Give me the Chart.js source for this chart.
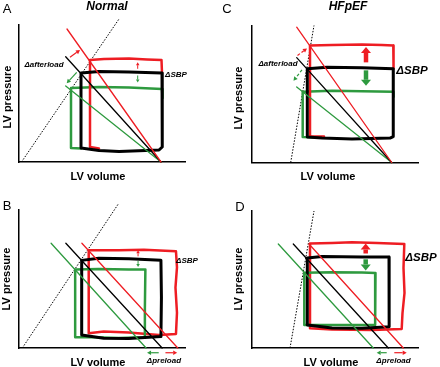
<!DOCTYPE html>
<html>
<head>
<meta charset="utf-8">
<script src="https://cdn.jsdelivr.net/npm/chart.js@4.4.1/dist/chart.umd.min.js"></script>
<style>
  body { margin: 0; background: #fff; }
  #fig { position: relative; width: 440px; height: 367px; overflow: hidden; font-family: "Liberation Sans", Arial, sans-serif; }
  canvas { position: absolute; }
  .t { position: absolute; transform: translate(-50%, -50%); white-space: nowrap; color: #000; line-height: 1; }
  .letter { font-size: 13px; }
  .title { font-size: 12px; font-weight: bold; font-style: italic; }
  .ax { font-size: 11px; font-weight: bold; }
  .rot { transform: translate(-50%, -50%) rotate(-90deg); }
</style>
</head>
<body>
<div id="fig">
  <canvas id="panelA" width="220" height="185" style="left:0;top:0"></canvas>
  <canvas id="panelC" width="220" height="185" style="left:220px;top:0"></canvas>
  <canvas id="panelB" width="220" height="182" style="left:0;top:185px"></canvas>
  <canvas id="panelD" width="220" height="182" style="left:220px;top:185px"></canvas>

  <div class="t letter" style="left:7px;top:8px">A</div>
  <div class="t title" style="left:107px;top:6px">Normal</div>
  <div class="t letter" style="left:227px;top:8px">C</div>
  <div class="t title" style="left:348px;top:6px">HFpEF</div>
  <div class="t letter" style="left:7px;top:205px">B</div>
  <div class="t letter" style="left:240px;top:206px">D</div>

  <div class="t ax rot" style="left:7px;top:97px">LV pressure</div>
  <div class="t ax rot" style="left:238px;top:98px">LV pressure</div>
  <div class="t ax rot" style="left:6px;top:279px">LV pressure</div>
  <div class="t ax rot" style="left:238px;top:279px">LV pressure</div>
  <div class="t ax" style="left:98px;top:176px">LV volume</div>
  <div class="t ax" style="left:328px;top:176px">LV volume</div>
  <div class="t ax" style="left:98px;top:362px">LV volume</div>
  <div class="t ax" style="left:331px;top:362px">LV volume</div>
</div>
<script>
// schematic units: [volume, pressure], axes run 0-166 and 0-137

// --- A: normal heart, afterload change ---
const espvrA = [[2.5, 0], [100, 143]];
const loopA = [[62, 89], [80, 90.5], [110, 90], [143, 89], [143.5, 50], [143, 15], [140, 12], [100, 10.5], [80, 11.5], [62, 14], [62, 89]];
const loopAUp = [[80, 13.5], [71, 15], [71, 102], [85, 103], [110, 103.5], [128, 102.5], [142.5, 102], [143, 89]];
const loopADown = [[62, 13.5], [52, 14], [52, 74], [80, 75], [110, 74.5], [143, 73], [143.5, 64]];
const eaA = [[46.7, 105.3], [142, 0]];
const eaAUp = [[48, 133], [142, 0]];
const eaADown = [[46.7, 76], [142, 0]];
const arrowsA = { up: [[51, 104.7], [61, 112]], down: [[57.7, 89.7], [47.7, 78.7]], sbpUp: [[118.7, 93.2], [118.7, 99.8]], sbpDown: [[118.7, 86.5], [118.7, 79.5]] };

// --- B: normal heart, preload change ---
const espvrB = [[3.8, 0], [99.5, 143]];
const loopB = [[63, 87], [80, 89], [110, 88.5], [142, 87], [142.5, 50], [142, 11.3], [110, 9.5], [85, 9.7], [63, 13], [63, 87]];
const loopBUp = [[70, 14.7], [70, 97], [100, 97], [125, 97.5], [157, 96], [158, 80], [156.5, 60], [158, 35], [157, 14], [140, 13], [110, 15.5], [85, 16.3], [70, 14.7]];
const loopBDown = [[56.5, 78], [80, 78.5], [110, 78], [126.5, 78], [126, 40], [126, 10.7], [100, 10], [75, 10.7], [56.5, 10.7], [56.5, 78]];
const eaB = [[47.2, 104], [143.2, 0]];
const eaBUp = [[63.2, 104], [158.8, 0]];
const eaBDown = [[32.5, 104], [127.2, 0]];
const arrowsB = { sbpUp: [[119.2, 91], [119.2, 97]], sbpDown: [[119.2, 86.5], [119.2, 80.5]], preDown: [[139.8, -4.7], [128.2, -4.7]], preUp: [[146.5, -4.7], [158.2, -4.7]] };

// --- C: HFpEF, afterload change ---
const espvrC = [[38.7, 0], [62, 137.5]];
const loopC = [[55.3, 94], [75, 95.5], [110, 95], [141.3, 94], [141.5, 60], [141, 26], [138, 24.5], [100, 23.5], [70, 24.5], [55.3, 25.5], [55.3, 94]];
const loopCUp = [[72, 26], [58, 26], [58, 117.5], [80, 118], [110, 118.5], [130, 118], [141.3, 117.5], [141.8, 105], [141.3, 94]];
const loopCDown = [[66, 25], [50.7, 25.5], [50.7, 71], [80, 72], [110, 71.5], [141.3, 71], [141.5, 66]];
const eaC = [[44.7, 105.2], [139.7, 0]];
const eaCUp = [[44.7, 135.8], [139.7, 0]];
const eaCDown = [[44.7, 75.8], [139.7, 0]];
const arrowsC = { up: [[45.5, 107.5], [55, 114.5]], down: [[50, 93], [41.5, 82]], sbpUp: [[114, 100.5], [114, 116]], sbpDown: [[114, 92.5], [114, 77]] };

// --- D: HFpEF, preload change ---
const espvrD = [[38, 0], [62, 137]];
const loopD = [[55.3, 90], [70, 91.5], [110, 91], [137, 91], [137.3, 60], [137, 21.3], [110, 19.7], [80, 20], [55.3, 23], [55.3, 90]];
const loopDUp = [[58, 19.7], [58, 104.5], [80, 105], [100, 105.7], [125, 105], [152.3, 104], [151.5, 80], [152.5, 55], [150.5, 35], [149.7, 19], [120, 18], [80, 18.5], [58, 19.7]];
const loopDDown = [[52.3, 75.3], [80, 75.8], [110, 75.5], [123.5, 75], [123.3, 50], [123, 23], [90, 23], [52.3, 23], [52.3, 75.3]];
const eaD = [[41.3, 104], [136.3, 0]];
const eaDUp = [[57, 104], [151.3, 0]];
const eaDDown = [[26.3, 104], [121.3, 0]];
const arrowsD = { sbpUp: [[113.7, 94.5], [113.7, 104.5]], sbpDown: [[113.7, 88.7], [113.7, 77.5]], preDown: [[134.7, -4.7], [124.7, -4.7]], preUp: [[142.3, -4.7], [154.7, -4.7]] };

const RED = '#ee1d23';
const GREEN = '#2e9a3f';
const BLACK = '#000000';
const FONT = '"Liberation Sans", Arial, sans-serif';

const small = { shaft: 1.2, len: 4, head: 4.5 };
const tiny = { shaft: 1, len: 3, head: 3.5 };
const big = { shaft: 4.5, len: 6, head: 10 };

function line(data, color, width, order, extra) {
    return Object.assign({
        data: data, borderColor: color, borderWidth: width, showLine: true,
        pointRadius: 0, clip: false, order: order, tension: 0,
        borderJoinStyle: 'round', borderCapStyle: 'round'
    }, extra || {});
}

function arrow(data, color, style, dash) {
    return { data: data, borderColor: color, showLine: false, pointRadius: 0, clip: false, order: 0, arrow: style, dash: dash };
}

function drawArrow(ctx, x0, y0, x1, y1, color, st, dash) {
    const ang = Math.atan2(y1 - y0, x1 - x0);
    const bx = x1 - Math.cos(ang) * st.len, by = y1 - Math.sin(ang) * st.len;
    ctx.save();
    ctx.strokeStyle = color;
    ctx.fillStyle = color;
    ctx.lineWidth = st.shaft;
    if (dash) ctx.setLineDash(dash);
    ctx.beginPath();
    ctx.moveTo(x0, y0);
    ctx.lineTo(bx, by);
    ctx.stroke();
    ctx.setLineDash([]);
    const nx = -Math.sin(ang) * st.head / 2, ny = Math.cos(ang) * st.head / 2;
    ctx.beginPath();
    ctx.moveTo(x1, y1);
    ctx.lineTo(bx + nx, by + ny);
    ctx.lineTo(bx - nx, by - ny);
    ctx.closePath();
    ctx.fill();
    ctx.restore();
}

function marksPlugin(notes) {
    return {
        id: 'marks',
        afterDatasetsDraw(chart) {
            const ctx = chart.ctx;
            chart.data.datasets.forEach((ds, i) => {
                if (!ds.arrow) return;
                const pts = chart.getDatasetMeta(i).data;
                drawArrow(ctx, pts[0].x, pts[0].y, pts[1].x, pts[1].y, ds.borderColor, ds.arrow, ds.dash);
            });
            notes.forEach(n => {
                ctx.save();
                ctx.font = 'italic bold ' + n.size + 'px ' + FONT;
                ctx.fillStyle = '#000';
                ctx.textAlign = 'center';
                ctx.textBaseline = 'middle';
                ctx.fillText(n.text, chart.scales.x.getPixelForValue(n.v), chart.scales.y.getPixelForValue(n.p));
                ctx.restore();
            });
        }
    };
}

function makePanel(id, padding, datasets, notes) {
    const axis = (max, pos) => ({
        type: 'linear', position: pos, min: 0, max: max,
        grid: { display: false, drawTicks: false },
        ticks: { display: false },
        border: { display: true, color: '#000', width: 1.5 }
    });
    return new Chart(document.getElementById(id), {
        type: 'scatter',
        data: { datasets: datasets },
        options: {
            responsive: false,
            animation: false,
            layout: { padding: padding },
            plugins: { legend: { display: false }, tooltip: { enabled: false } },
            scales: { x: axis(166, 'bottom'), y: axis(137, 'left') }
        },
        plugins: [marksPlugin(notes)]
    });
}

makePanel('panelA', { left: 19, top: 25, right: 35, bottom: 23 }, [
    line(espvrA, BLACK, 1, 9, { borderDash: [1.5, 1.5], borderCapStyle: 'butt' }),
    line(loopADown, GREEN, 2.5, 8),
    line(loopAUp, RED, 2.5, 7),
    line(loopA, BLACK, 3, 6),
    line(eaADown, GREEN, 1.3, 5),
    line(eaA, BLACK, 1.3, 4),
    line(eaAUp, RED, 1.3, 3),
    arrow(arrowsA.up, RED, small),
    arrow(arrowsA.down, GREEN, small),
    arrow(arrowsA.sbpUp, RED, tiny),
    arrow(arrowsA.sbpDown, GREEN, tiny)
], [
    { text: '\u0394afterload', v: 25, p: 97.7, size: 8 },
    { text: '\u0394SBP', v: 157, p: 87, size: 8 }
]);

makePanel('panelB', { left: 18.5, top: 25, right: 35, bottom: 19 }, [
    line(espvrB, BLACK, 1, 9, { borderDash: [1.5, 1.5], borderCapStyle: 'butt' }),
    line(loopBUp, RED, 2.5, 8),
    line(loopBDown, GREEN, 2.5, 7),
    line(loopB, BLACK, 3, 6),
    line(eaBDown, GREEN, 1.3, 5),
    line(eaB, BLACK, 1.3, 4),
    line(eaBUp, RED, 1.3, 3),
    arrow(arrowsB.sbpUp, RED, tiny),
    arrow(arrowsB.sbpDown, GREEN, tiny),
    arrow(arrowsB.preDown, GREEN, small),
    arrow(arrowsB.preUp, RED, small)
], [
    { text: '\u0394SBP', v: 168, p: 87, size: 8 },
    { text: '\u0394preload', v: 145, p: -13, size: 8 }
]);

makePanel('panelC', { left: 32, top: 26, right: 22, bottom: 22.5 }, [
    line(espvrC, BLACK, 1, 9, { borderDash: [1.5, 1.5], borderCapStyle: 'butt' }),
    line(loopCDown, GREEN, 2.5, 8),
    line(loopCUp, RED, 2.5, 7),
    line(loopC, BLACK, 3, 6),
    line(eaCDown, GREEN, 1.3, 5),
    line(eaC, BLACK, 1.3, 4),
    line(eaCUp, RED, 1.3, 3),
    arrow(arrowsC.up, RED, small, [3, 2]),
    arrow(arrowsC.down, GREEN, small, [3, 2]),
    arrow(arrowsC.sbpUp, RED, big),
    arrow(arrowsC.sbpDown, GREEN, big)
], [
    { text: '\u0394afterload', v: 26, p: 99.5, size: 8 },
    { text: '\u0394SBP', v: 160, p: 92.5, size: 11.5 }
]);

makePanel('panelD', { left: 32, top: 26, right: 22, bottom: 19 }, [
    line(espvrD, BLACK, 1, 9, { borderDash: [1.5, 1.5], borderCapStyle: 'butt' }),
    line(loopDUp, RED, 2.5, 8),
    line(loopDDown, GREEN, 2.5, 7),
    line(loopD, BLACK, 3, 6),
    line(eaDDown, GREEN, 1.3, 5),
    line(eaD, BLACK, 1.3, 4),
    line(eaDUp, RED, 1.3, 3),
    arrow(arrowsD.sbpUp, RED, big),
    arrow(arrowsD.sbpDown, GREEN, big),
    arrow(arrowsD.preDown, GREEN, small),
    arrow(arrowsD.preUp, RED, small)
], [
    { text: '\u0394SBP', v: 169, p: 90, size: 11.5 },
    { text: '\u0394preload', v: 141.5, p: -13, size: 8 }
]);
</script>
</body>
</html>
